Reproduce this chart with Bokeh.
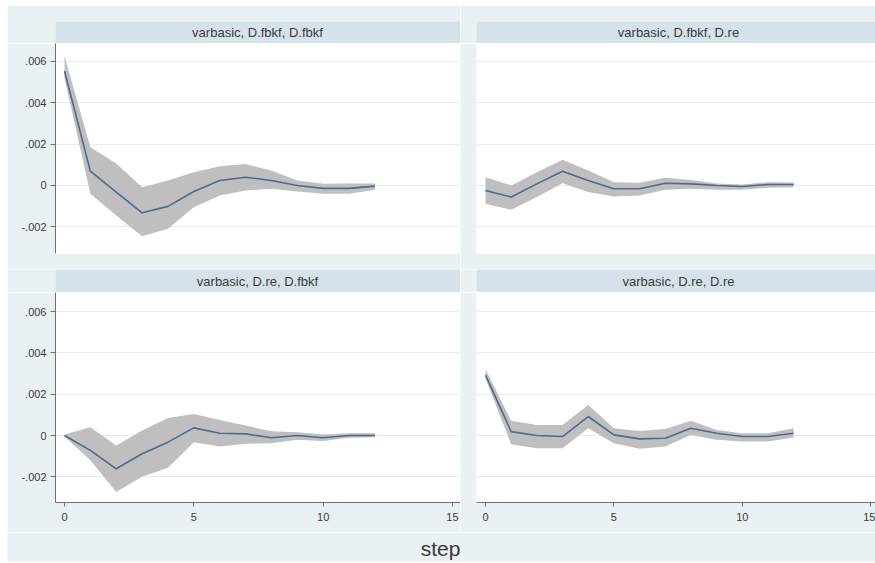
from bokeh.plotting import figure
from bokeh.layouts import column, row
from bokeh.models import Range1d, FixedTicker, LinearAxis, Grid, CustomJSTickFormatter
from bokeh.core.properties import value
from bokeh.embed import file_html
from bokeh.resources import INLINE

steps = list(range(13))

titles = ["varbasic, D.fbkf, D.fbkf", "varbasic, D.fbkf, D.re",
          "varbasic, D.re, D.fbkf", "varbasic, D.re, D.re"]

irf_fbkf_fbkf = [0.00554, 0.00069, -0.00032, -0.00132, -0.00101, -0.00029, 0.00024, 0.00040, 0.00024, 0.0, -0.00014, -0.00014, -0.00003]
lo_fbkf_fbkf = [0.00520, -0.00040, -0.00145, -0.00246, -0.00209, -0.00105, -0.00048, -0.00024, -0.00016, -0.00029, -0.00040, -0.00040, -0.00020]
hi_fbkf_fbkf = [0.00627, 0.00185, 0.00106, -0.00008, 0.00024, 0.00064, 0.00093, 0.00104, 0.00072, 0.00024, 0.00008, 0.00010, 0.00010]

irf_fbkf_re = [-0.00024, -0.00056, 0.00008, 0.00069, 0.00024, -0.00016, -0.00016, 0.00011, 0.00008, 0.0, -0.00005, 0.00005, 0.00005]
lo_fbkf_re = [-0.00088, -0.00117, -0.00056, 0.00011, -0.00032, -0.00053, -0.00048, -0.00020, -0.00016, -0.00020, -0.00020, -0.00011, -0.00008]
hi_fbkf_re = [0.00040, 0.0, 0.00064, 0.00124, 0.00072, 0.00016, 0.00013, 0.00037, 0.00027, 0.00010, 0.00005, 0.00016, 0.00014]

irf_re_fbkf = [0.0, -0.00072, -0.00161, -0.00088, -0.00032, 0.00037, 0.00011, 0.00008, -0.00011, 0.0, -0.00011, 0.0, 0.0]
lo_re_fbkf = [-0.00005, -0.00120, -0.00273, -0.00200, -0.00156, -0.00032, -0.00053, -0.00040, -0.00037, -0.00021, -0.00027, -0.00011, -0.00008]
hi_re_fbkf = [0.00005, 0.00040, -0.00048, 0.00024, 0.00085, 0.00104, 0.00075, 0.00048, 0.00021, 0.00016, 0.00005, 0.00011, 0.00011]

irf_re_re = [0.00292, 0.00019, 0.0, -0.00005, 0.00092, 0.00003, -0.00016, -0.00013, 0.00035, 0.00011, -0.00005, -0.00005, 0.00011]
lo_re_re = [0.00276, -0.00042, -0.00061, -0.00061, 0.00035, -0.00037, -0.00064, -0.00053, 0.00003, -0.00021, -0.00029, -0.00029, -0.00010]
hi_re_re = [0.00321, 0.00071, 0.00051, 0.00051, 0.00148, 0.00035, 0.00022, 0.00032, 0.00071, 0.00027, 0.00011, 0.00011, 0.00035]

y_ticks = [-0.002, 0.0, 0.002, 0.004, 0.006]
x_ticks = [0, 5, 10, 15]
x_label = "step"

BG = "#eaf1f3"
STRIP = "#d6e2e9"
BAND = "#bfbfbf"
LINE = "#4a6b93"
TXT = "#3a3a3a"
AXC = "#707070"
FONT = "Liberation Sans"

LW, RW = 453, 415
LMB, RMB = 48, 16


def strip(title, width, left, height, top):
    fw = width - left
    p = figure(width=width, height=height, output_backend="svg", toolbar_location=None,
               x_range=Range1d(0, fw), y_range=Range1d(0, 1),
               x_axis_location=None, y_axis_location=None,
               min_border_left=left, min_border_right=0, min_border_top=top, min_border_bottom=0)
    p.grid.visible = False
    p.outline_line_color = None
    p.background_fill_color = STRIP
    p.border_fill_color = BG
    p.text(x=[202], y=[0.5], text=[title], text_font=value(FONT), text_font_size="13px",
           text_color=TXT, text_align="center", text_baseline="middle")
    return p


def panel(irf, lo, hi, width, left, xr, yr, height, bottom, yaxis, xaxis):
    p = figure(width=width, height=height, output_backend="svg", toolbar_location=None,
               x_range=Range1d(*xr), y_range=Range1d(*yr),
               x_axis_location=None, y_axis_location=None,
               min_border_left=left, min_border_right=0, min_border_top=0, min_border_bottom=bottom)
    p.grid.visible = False
    p.outline_line_color = None
    p.background_fill_color = "white"
    p.border_fill_color = BG
    p.add_layout(Grid(dimension=1, ticker=FixedTicker(ticks=y_ticks),
                      grid_line_color="#e4edf1", grid_line_width=1))
    if yaxis:
        ya = LinearAxis(ticker=FixedTicker(ticks=y_ticks),
                        formatter=CustomJSTickFormatter(code="""
                            if (Math.abs(tick) < 1e-12) return "0";
                            var s = tick.toFixed(3);
                            return s.replace("0.", ".");
                        """),
                        axis_line_color=AXC, major_tick_line_color=AXC,
                        major_tick_out=5, major_tick_in=0, minor_tick_line_color=None,
                        major_label_standoff=4, major_label_text_font=FONT,
                        major_label_text_font_size="11px", major_label_text_color=TXT,
                        major_label_orientation="horizontal")
        p.add_layout(ya, "left")
    if xaxis:
        xa = LinearAxis(ticker=FixedTicker(ticks=x_ticks),
                        axis_line_color=AXC, major_tick_line_color=AXC,
                        major_tick_out=4, major_tick_in=0, minor_tick_line_color=None,
                        major_label_standoff=6, major_label_text_font=FONT,
                        major_label_text_font_size="11px", major_label_text_color=TXT)
        p.add_layout(xa, "below")
    p.varea(x=steps, y1=lo, y2=hi, fill_color=BAND, fill_alpha=1.0)
    p.line(steps, irf, line_color=LINE, line_width=1.6)
    return p


xr_left = (-0.348, 15.31)
xr_right = (-0.35, 15.19)
yr_top = (-0.00329, 0.00687)
yr_bot = (-0.00324, 0.00692)

s1 = strip(titles[0], LW, LMB, 38, 16)
s2 = strip(titles[1], RW, RMB, 38, 16)
p1 = panel(irf_fbkf_fbkf, lo_fbkf_fbkf, hi_fbkf_fbkf, LW, LMB, xr_left, yr_top, 226, 16, True, False)
p2 = panel(irf_fbkf_re, lo_fbkf_re, hi_fbkf_re, RW, RMB, xr_right, yr_top, 226, 16, False, False)
s3 = strip(titles[2], LW, LMB, 23, 0)
s4 = strip(titles[3], RW, RMB, 23, 0)
p3 = panel(irf_re_fbkf, lo_re_fbkf, hi_re_fbkf, LW, LMB, xr_left, yr_bot, 240, 30, True, True)
p4 = panel(irf_re_re, lo_re_re, hi_re_re, RW, RMB, xr_right, yr_bot, 240, 30, False, True)

SH = 30
sf = figure(width=LW + RW, height=SH, output_backend="svg", toolbar_location=None,
            x_range=Range1d(0, LW + RW), y_range=Range1d(0, SH),
            x_axis_location=None, y_axis_location=None,
            min_border_left=0, min_border_right=0, min_border_top=0, min_border_bottom=0)
sf.grid.visible = False
sf.outline_line_color = None
sf.background_fill_color = BG
sf.border_fill_color = BG
sf.text(x=[433], y=[14], text=[x_label], text_font=value(FONT), text_font_size="21px",
        text_color=TXT, text_align="center", text_baseline="middle")

layout = column(row(s1, s2), row(p1, p2), row(s3, s4), row(p3, p4), sf, margin=(5, 0, 0, 7))

open("out.html", "w").write(file_html(layout, INLINE))
